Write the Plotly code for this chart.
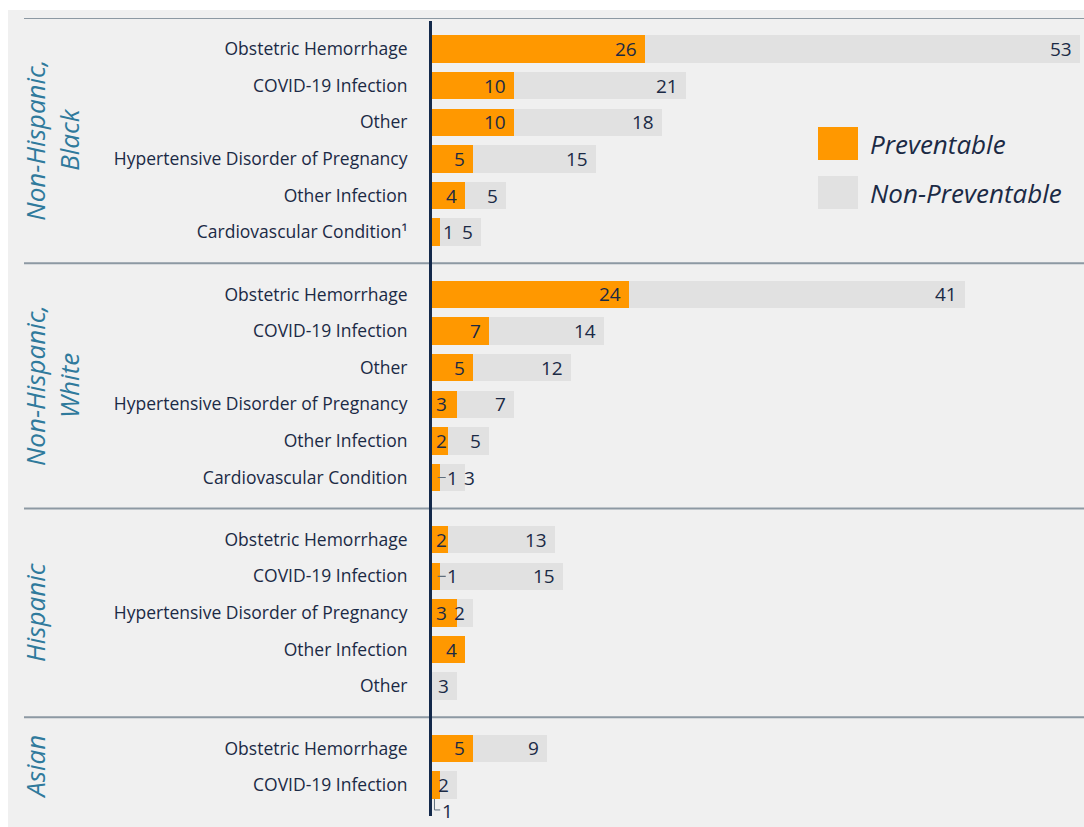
import plotly.graph_objects as go

# ---------------- data ----------------
groups = ["Non-Hispanic,<br>Black", "Non-Hispanic,<br>White", "Hispanic", "Asian"]

nhb_causes = ["Obstetric Hemorrhage", "COVID-19 Infection", "Other",
              "Hypertensive Disorder of Pregnancy", "Other Infection",
              "Cardiovascular Condition¹"]
nhb_prev = [26, 10, 10, 5, 4, 1]
nhb_non = [53, 21, 18, 15, 5, 5]

nhw_causes = ["Obstetric Hemorrhage", "COVID-19 Infection", "Other",
              "Hypertensive Disorder of Pregnancy", "Other Infection",
              "Cardiovascular Condition"]
nhw_prev = [24, 7, 5, 3, 2, 1]
nhw_non = [41, 14, 12, 7, 5, 3]

hisp_causes = ["Obstetric Hemorrhage", "COVID-19 Infection",
               "Hypertensive Disorder of Pregnancy", "Other Infection", "Other"]
hisp_prev = [2, 1, 3, 4, 0]
hisp_non = [13, 15, 2, 0, 3]

asian_causes = ["Obstetric Hemorrhage", "COVID-19 Infection"]
asian_prev = [5, 1]
asian_non = [9, 2]

# ---------------- styles ----------------
ORANGE = "#ff9800"
GREY = "#e1e1e1"
BG = "#f0f0f0"
NAVY = "#13294b"
TEXT = "#1b2a45"
TEAL = "#2f7a9c"
SEP = "#8d99a3"
LEAD = "#5f6f7e"
FONT = "Open Sans"

W, H = 1084, 827
ML, MR, MT, MB = 432, 0, 18, 9
PW, PH = W - ML - MR, H - MT - MB
XMAX = 79.5
SCALE = PW / XMAX  # px per unit (for label decisions only)

def px_x(px):
    return (px - ML) / PW

def px_y(py):
    return (H - MB - py) / PH

GAP = 1.7
all_causes, all_prev, all_non = [], [], []
ypos, group_rows = [], []
y = 0.0
for gi, (c, p, n) in enumerate([(nhb_causes, nhb_prev, nhb_non),
                                (nhw_causes, nhw_prev, nhw_non),
                                (hisp_causes, hisp_prev, hisp_non),
                                (asian_causes, asian_prev, asian_non)]):
    if gi > 0:
        y += GAP - 1
    rows = []
    for i in range(len(c)):
        rows.append(y)
        ypos.append(y)
        y += 1
    group_rows.append(rows)
    all_causes += c
    all_prev += p
    all_non += n

fig = go.Figure()
fig.add_trace(go.Bar(y=ypos, x=all_prev, orientation="h", width=0.75,
                     marker=dict(color=ORANGE, line=dict(width=0)),
                     name="Preventable", hoverinfo="skip"))
fig.add_trace(go.Bar(y=ypos, x=all_non, orientation="h", width=0.75,
                     marker=dict(color=GREY, line=dict(width=0)),
                     name="Non-Preventable", hoverinfo="skip"))

annotations = []
shapes = []
lblfont = dict(family=FONT, size=19, color=TEXT)

# background panel
shapes.append(dict(type="rect", xref="paper", yref="paper",
                   x0=px_x(8), x1=px_x(W + 5), y0=px_y(H + 5), y1=px_y(10),
                   fillcolor=BG, line=dict(width=0), layer="below"))

n_rows = len(ypos)
n_nhb = len(nhb_causes)
for i in range(n_rows):
    p, n, yy = all_prev[i], all_non[i], ypos[i]
    leader = False
    # preventable label
    if p > 3:
        annotations.append(dict(x=p, y=yy, xref="x", yref="y", text=str(p),
                                showarrow=False, xanchor="right", xshift=-6,
                                font=lblfont))
    elif p >= 2:
        annotations.append(dict(x=0, y=yy, xref="x", yref="y", text=str(p),
                                showarrow=False, xanchor="left", xshift=2,
                                font=lblfont))
    elif p == 1:
        if i < n_nhb:
            annotations.append(dict(x=p, y=yy, xref="x", yref="y", text="1",
                                    showarrow=False, xanchor="left", xshift=1,
                                    font=lblfont))
        elif i == n_rows - 1:
            ly = yy + 0.68
            shapes.append(dict(type="path", xref="x", yref="y",
                               path=f"M {p*0.3} {yy+0.38} L {p*0.3} {ly} L {p*1.0} {ly}",
                               line=dict(color=LEAD, width=1)))
            annotations.append(dict(x=p * 1.0, y=ly, xref="x", yref="y", text="1",
                                    showarrow=False, xanchor="left", xshift=0,
                                    yshift=-1, font=lblfont))
        else:
            leader = True
            annotations.append(dict(x=p * 0.7, y=yy, xref="x", yref="y", text="1",
                                    showarrow=True, ax=15, ay=0, arrowhead=0,
                                    arrowwidth=1.2, arrowcolor=LEAD,
                                    standoff=0, startstandoff=0,
                                    font=lblfont))
    # non-preventable label
    if n > 0:
        if leader and n * SCALE < 30:
            annotations.append(dict(x=p, y=yy, xref="x", yref="y", text=str(n),
                                    showarrow=False, xanchor="left", xshift=22,
                                    font=lblfont))
        else:
            annotations.append(dict(x=p + n, y=yy, xref="x", yref="y", text=str(n),
                                    showarrow=False, xanchor="right", xshift=-6,
                                    font=lblfont))

# separators
top_y = -0.85
shapes.append(dict(type="line", xref="paper", yref="y", x0=px_x(24), x1=1,
                   y0=top_y, y1=top_y, line=dict(color=SEP, width=2)))
for gi in range(1, len(group_rows)):
    ys = (group_rows[gi - 1][-1] + group_rows[gi][0]) / 2
    shapes.append(dict(type="line", xref="paper", yref="y", x0=px_x(24), x1=1,
                       y0=ys, y1=ys, line=dict(color=SEP, width=2)))

# axis line
shapes.append(dict(type="line", xref="paper", yref="paper", x0=px_x(430.5),
                   x1=px_x(430.5), y0=px_y(816), y1=px_y(21),
                   line=dict(color=NAVY, width=3), layer="above"))

# group labels
for gi, rows in enumerate(group_rows):
    cy = (rows[0] + rows[-1]) / 2
    annotations.append(dict(x=px_x(15), y=cy, xref="paper", yref="y",
                            text=groups[gi], showarrow=False, textangle=-90,
                            xanchor="left", yanchor="middle", align="center",
                            font=dict(family=FONT, size=26, color=TEAL,
                                      style="italic")))

# legend
leg = [("Preventable", ORANGE, 127, 160), ("Non-Preventable", GREY, 176, 209)]
for name, col, t, b in leg:
    shapes.append(dict(type="rect", xref="paper", yref="paper",
                       x0=px_x(818), x1=px_x(858), y0=px_y(b), y1=px_y(t),
                       fillcolor=col, line=dict(width=0)))
    annotations.append(dict(x=px_x(868), y=px_y((t + b) / 2), xref="paper",
                            yref="paper", text=name, showarrow=False,
                            xanchor="left", yanchor="middle",
                            font=dict(family=FONT, size=26, color=TEXT,
                                      style="italic")))

fig.update_layout(
    width=W, height=H,
    margin=dict(l=ML, r=MR, t=MT, b=MB, pad=0),
    barmode="stack",
    bargap=0,
    showlegend=False,
    paper_bgcolor="white",
    plot_bgcolor="rgba(0,0,0,0)",
    shapes=shapes,
    annotations=annotations,
    xaxis=dict(range=[0, XMAX], visible=False, fixedrange=True),
    yaxis=dict(range=[21.0, top_y], tickvals=ypos, ticktext=all_causes,
               showgrid=False, zeroline=False, showline=False,
               ticks="outside", ticklen=20, tickcolor="rgba(0,0,0,0)",
               tickfont=dict(family=FONT, size=17.5, color=TEXT),
               fixedrange=True),
)

fig.write_html("out.html")
